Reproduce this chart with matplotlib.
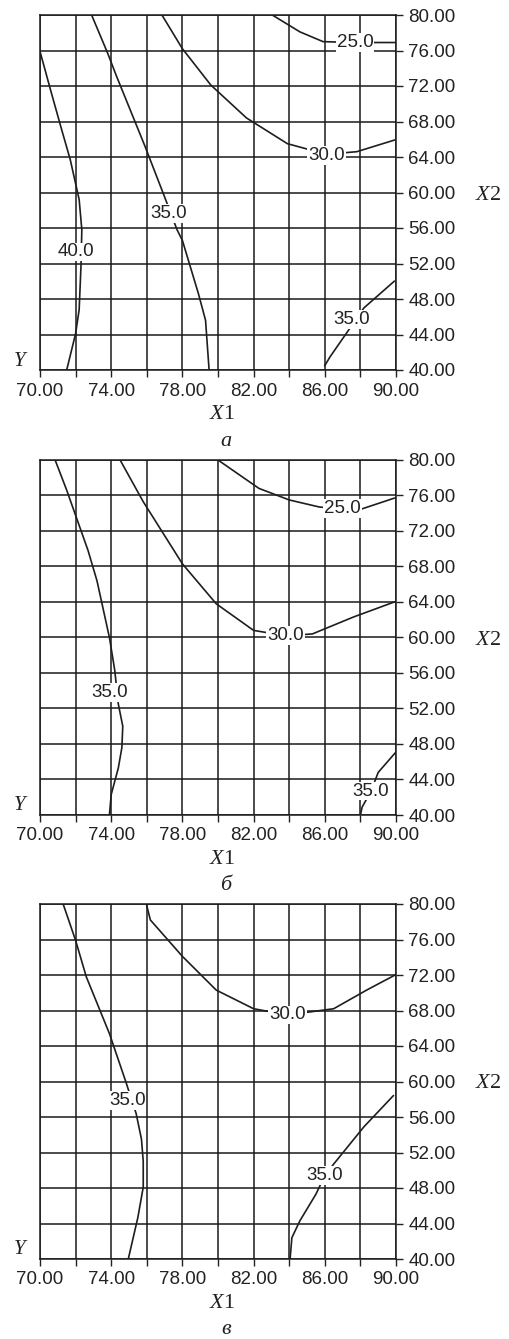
import matplotlib
matplotlib.use("Agg")
import matplotlib.pyplot as plt
import numpy as np

# axis ranges and ticks
x1_ticks = [70, 74, 78, 82, 86, 90]
x1_grid = [72, 76, 80, 84, 88]
x2_ticks = [40, 44, 48, 52, 56, 60, 64, 68, 72, 76, 80]

# panel а: contour polylines (X1, X2)
a_40_x1 = [70.0, 70.6, 71.2, 71.7, 72.2, 72.35, 72.3, 72.2, 72.0, 71.5]
a_40_x2 = [75.9, 71.5, 67.2, 63.7, 59.2, 55.8, 51.6, 46.8, 44.1, 40.0]
a_35l_x1 = [72.9, 73.8, 74.3, 75.9, 77.0, 77.7, 78.0, 78.9, 79.3, 79.5]
a_35l_x2 = [80.0, 75.7, 73.1, 65.2, 59.5, 55.8, 54.6, 48.6, 45.6, 40.0]
a_30_x1 = [76.85, 78.0, 79.6, 81.6, 83.9, 86.1, 87.8, 89.9]
a_30_x2 = [80.0, 76.2, 72.1, 68.4, 65.5, 64.3, 64.6, 65.9]
a_25_x1 = [83.05, 84.6, 85.9, 87.6, 89.3, 90.0]
a_25_x2 = [80.0, 78.1, 77.0, 76.9, 76.9, 76.9]
a_35r_x1 = [86.0, 86.3, 87.2, 88.2, 89.9]
a_35r_x2 = [40.5, 41.5, 44.1, 47.0, 50.0]
a_labels = ["40.0", "35.0", "30.0", "25.0", "35.0"]
a_label_x1 = [72.0, 77.2, 86.1, 87.7, 87.5]
a_label_x2 = [53.3, 57.6, 64.2, 76.9, 45.7]

# panel б
b_35l_x1 = [70.85, 71.5, 72.1, 72.7, 73.2, 73.9, 74.2, 74.4, 74.65, 74.6, 74.4, 74.0, 73.9]
b_35l_x2 = [80.0, 76.6, 73.2, 69.8, 66.4, 60.0, 56.3, 52.5, 50.0, 47.6, 45.3, 42.3, 40.0]
b_30_x1 = [74.5, 75.8, 78.0, 79.9, 82.0, 83.8, 85.3, 87.6, 89.9]
b_30_x2 = [80.0, 75.3, 68.3, 63.8, 60.8, 60.2, 60.4, 62.3, 64.0]
b_25_x1 = [80.0, 82.3, 84.0, 85.7, 87.0, 88.1, 89.9]
b_25_x2 = [80.0, 76.8, 75.5, 74.7, 74.5, 74.5, 75.7]
b_35r_x1 = [88.0, 88.1, 88.6, 89.0, 90.0]
b_35r_x2 = [40.0, 40.9, 42.7, 44.8, 47.1]
b_labels = ["35.0", "30.0", "25.0", "35.0"]
b_label_x1 = [73.9, 83.8, 87.0, 88.6]
b_label_x2 = [53.8, 60.2, 74.5, 42.7]

# panel в
c_35l_x1 = [71.3, 72.0, 72.6, 73.9, 74.8, 75.4, 75.7, 75.8, 75.8, 75.5, 74.96]
c_35l_x2 = [80.0, 75.9, 71.8, 65.4, 60.1, 56.4, 53.5, 51.0, 48.1, 44.7, 40.0]
c_30_x1 = [76.0, 76.2, 78.0, 79.9, 82.0, 83.9, 86.5, 88.35, 89.95]
c_30_x2 = [79.8, 78.2, 74.1, 70.3, 68.2, 67.5, 68.2, 70.3, 72.0]
c_35r_x1 = [84.05, 84.15, 84.6, 85.5, 86.0, 86.5, 88.2, 89.85]
c_35r_x2 = [40.0, 42.4, 44.3, 47.3, 49.4, 50.7, 54.9, 58.4]
c_labels = ["35.0", "30.0", "35.0"]
c_label_x1 = [74.9, 83.9, 86.0]
c_label_x2 = [57.9, 67.5, 49.4]

W, H = 510, 1339
fig = plt.figure(figsize=(W / 100, H / 100), dpi=100)

num_font = "Liberation Sans"
ser_font = "Liberation Serif"
line_col = "#1e1e1e"

plt.rcParams["mathtext.fontset"] = "custom"
plt.rcParams["mathtext.it"] = "Liberation Serif:italic"
plt.rcParams["mathtext.rm"] = "Liberation Serif"


def px(x, y):
    # pixel coords (from top-left) -> figure fraction
    return x / W, 1 - y / H


def draw_panel(top, curves, labels, lab_x1, lab_x2, letter):
    left, width, height = 40, 356, 355
    ax = fig.add_axes([left / W, 1 - (top + height) / H, width / W, height / H])
    ax.set_xlim(70, 90)
    ax.set_ylim(40, 80)
    ax.set_xticks(x1_ticks)
    ax.set_xticks(x1_grid, minor=True)
    ax.set_xticklabels(["%.2f" % v for v in x1_ticks], fontfamily=num_font, fontsize=13.5)
    ax.set_yticks(x2_ticks)
    ax.yaxis.tick_right()
    ax.set_yticklabels(["%.2f" % v for v in x2_ticks], fontfamily=num_font, fontsize=13.5)
    ax.tick_params(axis="both", which="both", direction="out", length=5, width=1,
                   color="#222222", labelcolor="#222222")
    ax.tick_params(axis="x", which="major", pad=4)
    ax.tick_params(axis="y", which="major", pad=4)
    ax.grid(True, which="both", color="#1a1a1a", linewidth=1.1)
    ax.set_axisbelow(True)
    for s in ax.spines.values():
        s.set_color("#1a1a1a")
        s.set_linewidth(1.1)

    for xs, ys in curves:
        ax.plot(xs, ys, color=line_col, linewidth=1.2, zorder=3)
    for t, x, y in zip(labels, lab_x1, lab_x2):
        ax.text(x, y, t, ha="center", va="center", fontfamily=num_font, fontsize=13.5,
                color="#222222", zorder=4,
                bbox=dict(boxstyle="square,pad=0.05", fc="white", ec="none"))

    bottom = top + height
    fig.text(*px(222, bottom + 44), "$X$1", ha="center", va="center",
             fontfamily=ser_font, fontsize=16, color="#222222")
    fig.text(*px(226, bottom + 71), letter, ha="center", va="center",
             fontfamily=ser_font, fontstyle="italic", fontsize=16, color="#222222")
    fig.text(*px(20, bottom - 9), "Y", ha="center", va="center",
             fontfamily=ser_font, fontstyle="italic", fontsize=15, color="#222222")
    fig.text(*px(488, top + 180), "$X$2", ha="center", va="center",
             fontfamily=ser_font, fontsize=16, color="#222222")


draw_panel(15,
           [(a_40_x1, a_40_x2), (a_35l_x1, a_35l_x2), (a_30_x1, a_30_x2),
            (a_25_x1, a_25_x2), (a_35r_x1, a_35r_x2)],
           a_labels, a_label_x1, a_label_x2, "а")
draw_panel(460,
           [(b_35l_x1, b_35l_x2), (b_30_x1, b_30_x2), (b_25_x1, b_25_x2),
            (b_35r_x1, b_35r_x2)],
           b_labels, b_label_x1, b_label_x2, "б")
draw_panel(904,
           [(c_35l_x1, c_35l_x2), (c_30_x1, c_30_x2), (c_35r_x1, c_35r_x2)],
           c_labels, c_label_x1, c_label_x2, "в")

fig.savefig("out.png", dpi=100, facecolor="white")
